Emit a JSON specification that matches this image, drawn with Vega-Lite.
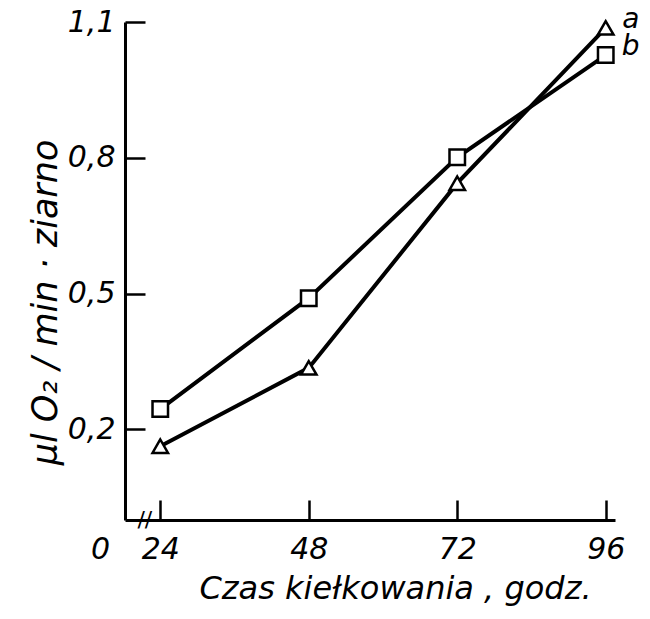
{
  "$schema": "https://vega.github.io/schema/vega-lite/v6.json",
  "width": 490,
  "height": 498,
  "autosize": "none",
  "padding": {"left": 125, "top": 22, "right": 35, "bottom": 99},
  "background": "white",
  "config": {"view": {"stroke": null}, "font": "DejaVu Sans"},
  "data": {"values": [
    {"series": "a", "godz": 24, "v": 0.163},
    {"series": "a", "godz": 48, "v": 0.336},
    {"series": "a", "godz": 72, "v": 0.744},
    {"series": "a", "godz": 96, "v": 1.087},
    {"series": "b", "godz": 24, "v": 0.245},
    {"series": "b", "godz": 48, "v": 0.49},
    {"series": "b", "godz": 72, "v": 0.801},
    {"series": "b", "godz": 96, "v": 1.027}
  ]},
  "encoding": {
    "x": {"field": "godz", "type": "quantitative",
      "scale": {"domain": [18.3, 97.5], "nice": false, "zero": false},
      "axis": {
        "values": [18.3, 24, 48, 72, 96],
        "labelExpr": "datum.value < 20 ? '0' : format(datum.value, 'd')",
        "grid": false,
        "domainColor": "black", "domainWidth": 3,
        "tickColor": "black", "tickWidth": 2.5, "tickSize": -20,
        "tickOpacity": {"condition": {"test": "datum.value < 20", "value": 0}, "value": 1},
        "labelOffset": {"condition": {"test": "datum.value < 20", "value": -25}, "value": 0},
        "labelFontSize": 30, "labelFontStyle": "italic", "labelColor": "black",
        "labelPadding": 34, "labelFlush": false, "labelOverlap": false,
        "title": "Czas kiełkowania , godz.",
        "titleFontSize": 32, "titleFontStyle": "italic", "titleFontWeight": "normal", "titleColor": "black",
        "titleX": 270, "titleY": 68, "titleAnchor": "middle", "titleBaseline": "middle"
      }},
    "y": {"field": "v", "type": "quantitative",
      "scale": {"domain": [0, 1.1], "nice": false},
      "axis": {
        "values": [0.2, 0.5, 0.8, 1.1],
        "labelExpr": "replace(format(datum.value, '.1f'), '.', ',')",
        "grid": false,
        "domainColor": "black", "domainWidth": 3,
        "tickColor": "black", "tickWidth": 2.5, "tickSize": -20,
        "labelFontSize": 30, "labelFontStyle": "italic", "labelColor": "black",
        "labelPadding": 30,
        "title": "μl O₂ / min · ziarno",
        "titleFontSize": 35, "titleFontStyle": "italic", "titleFontWeight": "normal", "titleColor": "black",
        "titleX": -80, "titleY": 280, "titleAnchor": "middle", "titleBaseline": "middle"
      }}
  },
  "layer": [
    {"mark": {"type": "line", "color": "black", "strokeWidth": 4},
     "encoding": {"detail": {"field": "series"}}},
    {"mark": {"type": "point", "filled": true, "fill": "white", "stroke": "black", "strokeWidth": 2.5, "size": 240, "opacity": 1},
     "encoding": {"shape": {"field": "series", "scale": {"domain": ["a", "b"], "range": ["triangle-up", "square"]}, "legend": null}}},
    {"transform": [{"filter": "datum.godz == 96"}],
     "mark": {"type": "text", "dx": 25, "dy": -8, "fontSize": 28, "fontStyle": "italic", "align": "center", "baseline": "middle", "color": "black"},
     "encoding": {"text": {"field": "series"}}},
    {"data": {"values": [{"godz": 21.5, "v": 0, "t": "//"}]},
     "mark": {"type": "text", "fontSize": 22, "align": "center", "baseline": "middle", "color": "black", "clip": false},
     "encoding": {"text": {"field": "t"}}}
  ]
}
